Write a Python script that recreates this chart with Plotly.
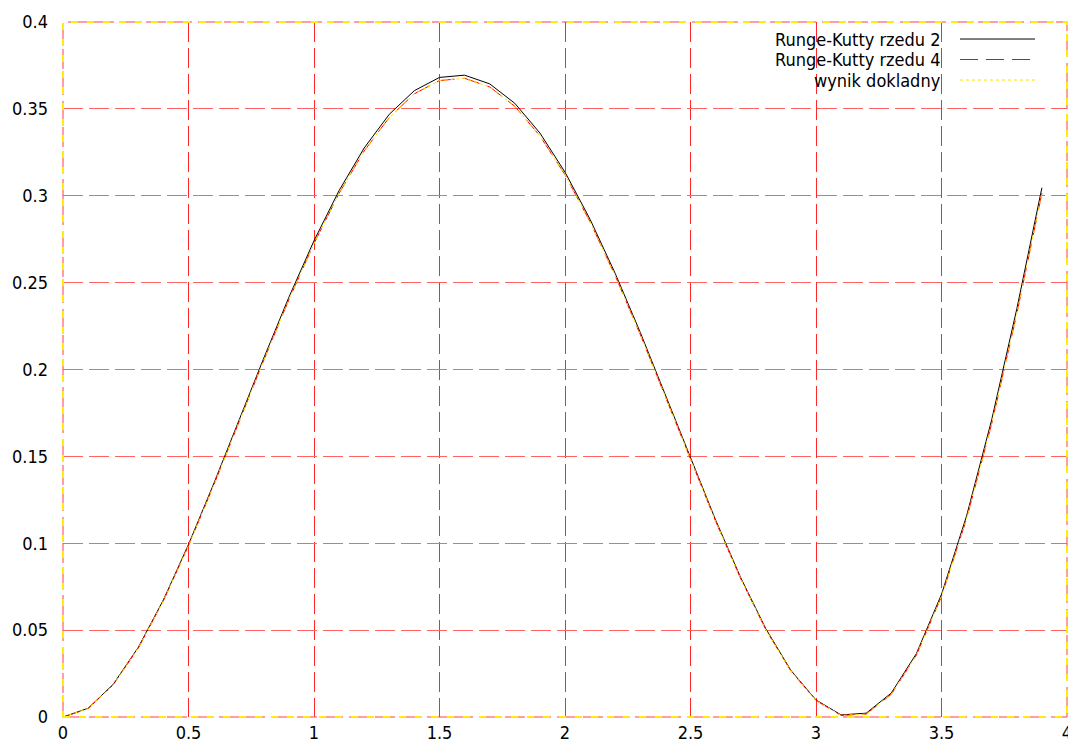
import plotly.graph_objects as go

# ---- data ----
x_vals = [0.0, 0.1, 0.2, 0.3, 0.4, 0.5, 0.6, 0.7, 0.8, 0.9,
          1.0, 1.1, 1.2, 1.3, 1.4, 1.5, 1.6, 1.7, 1.8, 1.9,
          2.0, 2.1, 2.2, 2.3, 2.4, 2.5, 2.6, 2.7, 2.8, 2.9,
          3.0, 3.1, 3.2, 3.3, 3.4, 3.5, 3.6, 3.7, 3.8, 3.9]

rk2_vals = [0.0, 0.0050, 0.0188, 0.0401, 0.0674, 0.0993, 0.1341, 0.1704, 0.2066, 0.2416,
            0.2741, 0.3030, 0.3275, 0.3469, 0.3605, 0.3681, 0.3694, 0.3644, 0.3532, 0.3361,
            0.3136, 0.2864, 0.2553, 0.2213, 0.1854, 0.1490, 0.1134, 0.0802, 0.0508, 0.0268,
            0.0098, 0.0012, 0.0022, 0.0138, 0.0365, 0.0706, 0.1158, 0.1711, 0.2349, 0.3046]

rk4_vals = [0.0, 0.0048, 0.0185, 0.0397, 0.0669, 0.0986, 0.1332, 0.1693, 0.2054, 0.2402,
            0.2725, 0.3014, 0.3258, 0.3451, 0.3587, 0.3663, 0.3676, 0.3626, 0.3515, 0.3345,
            0.3121, 0.2850, 0.2540, 0.2201, 0.1844, 0.1481, 0.1127, 0.0796, 0.0503, 0.0265,
            0.0095, 0.0009, 0.0017, 0.0131, 0.0356, 0.0694, 0.1141, 0.1688, 0.2320, 0.3015]

exact_vals = [0.0, 0.0048, 0.0185, 0.0397, 0.0669, 0.0986, 0.1332, 0.1693, 0.2054, 0.2402,
              0.2725, 0.3014, 0.3258, 0.3451, 0.3587, 0.3663, 0.3676, 0.3626, 0.3515, 0.3345,
              0.3121, 0.2850, 0.2540, 0.2201, 0.1844, 0.1481, 0.1127, 0.0796, 0.0503, 0.0265,
              0.0095, 0.0009, 0.0017, 0.0131, 0.0356, 0.0694, 0.1141, 0.1688, 0.2320, 0.3015]

series_names = ["Runge-Kutty rzedu 2", "Runge-Kutty rzedu 4", "wynik dokladny"]
series_colors = ["#000000", "#ff0000", "#ffdd00"]
series_dash = ["solid", "18px,8px", "3px,3px"]

FONT = "DejaVu Sans Condensed, Liberation Sans, sans-serif"

fig = go.Figure()
for name, vals, col, dash in zip(series_names, [rk2_vals, rk4_vals, exact_vals],
                                 series_colors, series_dash):
    fig.add_trace(go.Scatter(x=x_vals, y=vals, mode="lines", name=name,
                             line=dict(color=col, width=1, dash=dash),
                             showlegend=False))

# ---- custom legend (text on the left, line sample on the right) ----
leg_y = [0.9755, 0.946, 0.9165]
for name, col, dash, yy in zip(series_names, series_colors, series_dash, leg_y):
    fig.add_annotation(x=0.8765, y=yy, xref="paper", yref="paper", text=name,
                       showarrow=False, xanchor="right", yanchor="middle",
                       font=dict(family=FONT, size=18, color="#000000"))
    fig.add_shape(type="line", xref="paper", yref="paper",
                  x0=0.8934, x1=0.9681, y0=yy, y1=yy,
                  line=dict(color=col, width=1, dash=dash))

# ---- border (yellow dashed frame over red dashed edge lines) ----
fig.add_shape(type="rect", xref="paper", yref="paper", x0=0, x1=1, y0=0, y1=1,
              line=dict(color="#ff4040", width=1, dash="20px,6px"), layer="above")
fig.add_shape(type="rect", xref="paper", yref="paper", x0=0, x1=1, y0=0, y1=1,
              line=dict(color="#ffee00", width=2, dash="7px,9px"), layer="above")

# The page body has an 8px margin, so the figure is sized to fill the rest of the window.
fig.update_layout(
    width=1068, height=741,
    margin=dict(l=55, r=9, t=14, b=32),
    paper_bgcolor="white", plot_bgcolor="white",
    font=dict(family=FONT, size=18, color="#000000"),
)
fig.update_xaxes(range=[0, 4], dtick=0.5, tick0=0, showline=False, zeroline=False,
                 showgrid=True, gridcolor="rgb(255,40,40)", gridwidth=1, griddash="20px,6px",
                 ticks="", ticklabelstandoff=3, automargin=False,
                 tickfont=dict(family=FONT, size=18, color="#000000"))
fig.update_yaxes(range=[0, 0.4], dtick=0.05, tick0=0, showline=False, zeroline=False,
                 showgrid=True, gridcolor="rgb(255,100,100)", gridwidth=1, griddash="20px,6px",
                 ticks="", ticklabelstandoff=14, automargin=False,
                 tickfont=dict(family=FONT, size=18, color="#000000"))

fig.write_html("out.html")
